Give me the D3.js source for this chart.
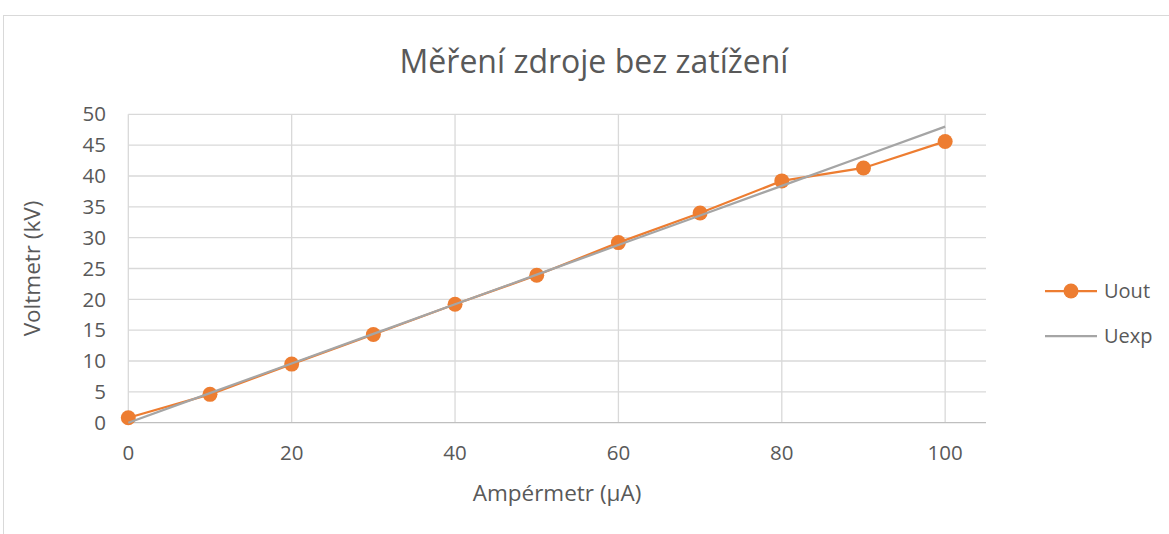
<!DOCTYPE html>
<html>
<head>
<meta charset="utf-8">
<script src="https://cdn.jsdelivr.net/npm/d3@7"></script>
<style>
  body { margin: 0; background: #fff; }
  text { font-family: "Open Sans", "Noto Sans", sans-serif; fill: #595959; }
</style>
</head>
<body>
<div class="container"></div>
<script>
// data
var ampermetr = [0, 10, 20, 30, 40, 50, 60, 70, 80, 90, 100];
var uout = [0.8, 4.6, 9.5, 14.3, 19.2, 23.9, 29.2, 34.0, 39.2, 41.3, 45.6];
var uexp = [0, 4.8, 9.6, 14.4, 19.2, 24, 28.8, 33.6, 38.4, 43.2, 48];
var xTicks = [0, 20, 40, 60, 80, 100];
var yTicks = [0, 5, 10, 15, 20, 25, 30, 35, 40, 45, 50];

var W = 1169, H = 534;
var svg = d3.select('.container').append('svg')
  .attr('width', W).attr('height', H);

// chart frame
svg.append('rect')
  .attr('x', 3.5).attr('y', 15.5)
  .attr('width', W + 10).attr('height', H + 10)
  .attr('fill', '#fff').attr('stroke', '#d9d9d9').attr('stroke-width', 1);

var plotL = 128.3, plotR = 986, plotT = 114.3, plotB = 422.7;

var x = d3.scaleLinear().domain([0, 105]).range([plotL, plotR]);
var y = d3.scaleLinear().domain([0, 50]).range([plotB, plotT]);

// gridlines
svg.append('g').selectAll('line').data(yTicks.slice(1)).enter()
  .append('line')
  .attr('x1', plotL).attr('x2', plotR)
  .attr('y1', function(d) { return y(d); })
  .attr('y2', function(d) { return y(d); })
  .attr('stroke', '#d9d9d9').attr('stroke-width', 1.3);

svg.append('g').selectAll('line').data(xTicks).enter()
  .append('line')
  .attr('x1', function(d) { return x(d); })
  .attr('x2', function(d) { return x(d); })
  .attr('y1', plotT).attr('y2', plotB)
  .attr('stroke', '#d9d9d9').attr('stroke-width', 1.3);

// x axis line
svg.append('line')
  .attr('x1', plotL).attr('x2', plotR)
  .attr('y1', plotB).attr('y2', plotB)
  .attr('stroke', '#bfbfbf').attr('stroke-width', 1.3);

// tick labels
svg.append('g').selectAll('text').data(yTicks).enter()
  .append('text')
  .attr('x', 106)
  .attr('y', function(d) { return y(d); })
  .attr('dy', '0.35em')
  .attr('text-anchor', 'end')
  .style('font-size', '20.5px')
  .text(function(d) { return d; });

svg.append('g').selectAll('text').data(xTicks).enter()
  .append('text')
  .attr('x', function(d) { return x(d); })
  .attr('y', 453)
  .attr('dy', '0.35em')
  .attr('text-anchor', 'middle')
  .style('font-size', '20.5px')
  .text(function(d) { return d; });

// title and axis titles
svg.append('text')
  .attr('x', 594).attr('y', 62).attr('dy', '0.35em')
  .attr('text-anchor', 'middle')
  .style('font-size', '32px')
  .text('Měření zdroje bez zatížení');

svg.append('text')
  .attr('x', 557).attr('y', 493).attr('dy', '0.35em')
  .attr('text-anchor', 'middle')
  .style('font-size', '22.5px')
  .text('Ampérmetr (µA)');

svg.append('text')
  .attr('transform', 'translate(32,' + ((plotT + plotB) / 2) + ') rotate(-90)')
  .attr('dy', '0.35em')
  .attr('text-anchor', 'middle')
  .style('font-size', '22.5px')
  .text('Voltmetr (kV)');

// series
var line = d3.line()
  .x(function(d) { return x(d[0]); })
  .y(function(d) { return y(d[1]); });

var outPts = ampermetr.map(function(a, i) { return [a, uout[i]]; });
var expPts = ampermetr.map(function(a, i) { return [a, uexp[i]]; });

svg.append('path').datum(outPts)
  .attr('d', line).attr('fill', 'none')
  .attr('stroke', '#ED7D31').attr('stroke-width', 2.25);

svg.append('g').selectAll('circle').data(outPts).enter()
  .append('circle')
  .attr('cx', function(d) { return x(d[0]); })
  .attr('cy', function(d) { return y(d[1]); })
  .attr('r', 7.5)
  .style('fill', '#ED7D31');

svg.append('path').datum(expPts)
  .attr('d', line).attr('fill', 'none')
  .attr('stroke', '#A5A5A5').attr('stroke-width', 2.25);

// legend
var legend = svg.append('g');
legend.append('line')
  .attr('x1', 1045).attr('x2', 1097).attr('y1', 291).attr('y2', 291)
  .attr('stroke', '#ED7D31').attr('stroke-width', 2.25);
legend.append('circle')
  .attr('cx', 1071).attr('cy', 291).attr('r', 7.5).style('fill', '#ED7D31');
legend.append('text')
  .attr('x', 1104).attr('y', 291).attr('dy', '0.35em')
  .style('font-size', '20px').text('Uout');
legend.append('line')
  .attr('x1', 1045).attr('x2', 1097).attr('y1', 336).attr('y2', 336)
  .attr('stroke', '#A5A5A5').attr('stroke-width', 2.25);
legend.append('text')
  .attr('x', 1104).attr('y', 336).attr('dy', '0.35em')
  .style('font-size', '20px').text('Uexp');
</script>
</body>
</html>
